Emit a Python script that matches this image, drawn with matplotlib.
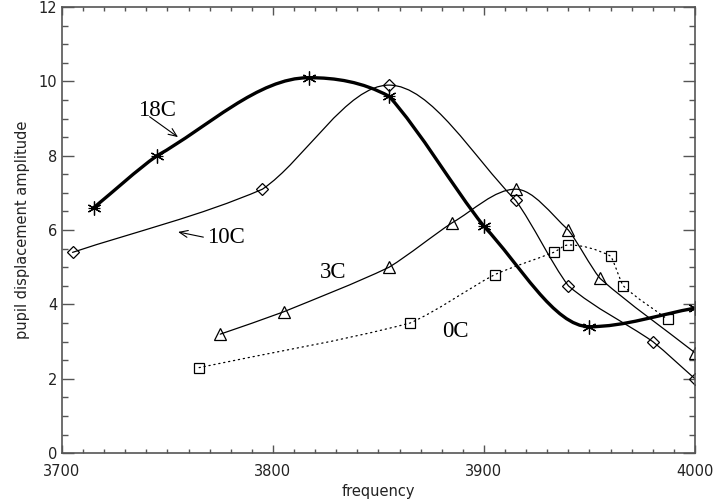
import numpy as np
import matplotlib
matplotlib.use("Agg")
import matplotlib.pyplot as plt
from matplotlib.path import Path
from matplotlib.patches import PathPatch
from matplotlib.ticker import MultipleLocator

# --- data ---
freq_18c = [3715, 3745, 3817, 3855, 3900, 3950, 4000]
amp_18c = [6.6, 8.0, 10.1, 9.6, 6.1, 3.4, 3.9]

freq_10c = [3705, 3795, 3855, 3915, 3940, 3980, 4000]
amp_10c = [5.4, 7.1, 9.9, 6.8, 4.5, 3.0, 2.0]

freq_3c = [3775, 3805, 3855, 3885, 3915, 3940, 3955, 4000]
amp_3c = [3.2, 3.8, 5.0, 6.2, 7.1, 6.0, 4.7, 2.7]

freq_0c = [3765, 3865, 3905, 3933, 3940, 3960, 3966, 3987]
amp_0c = [2.3, 3.5, 4.8, 5.4, 5.6, 5.3, 4.5, 3.6]

x_ticks = [3700, 3800, 3900, 4000]
y_ticks = [0, 2, 4, 6, 8, 10, 12]


def smooth_path(x, y, a=0.5):
    # smooth curve through the points, drawn as cubic bezier segments
    x = np.asarray(x, float)
    y = np.asarray(y, float)
    sec = np.diff(y) / np.diff(x)
    cr = np.empty(len(x))
    cr[1:-1] = (y[2:] - y[:-2]) / (x[2:] - x[:-2])
    cr[0], cr[-1] = sec[0], sec[-1]
    # tangent on each side of a point, leaning towards that side's chord
    m_left = cr.copy()
    m_right = cr.copy()
    m_left[1:] = a * sec + (1 - a) * cr[1:]
    m_right[:-1] = a * sec + (1 - a) * cr[:-1]
    # flat at peaks and dips
    peak = np.zeros(len(x), bool)
    peak[1:-1] = sec[:-1] * sec[1:] <= 0
    m_left[peak] = 0.0
    m_right[peak] = 0.0
    verts = [(x[0], y[0])]
    codes = [Path.MOVETO]
    for i in range(len(x) - 1):
        h = x[i + 1] - x[i]
        verts += [(x[i] + h / 3, y[i] + m_right[i] * h / 3),
                  (x[i + 1] - h / 3, y[i + 1] - m_left[i + 1] * h / 3),
                  (x[i + 1], y[i + 1])]
        codes += [Path.CURVE4] * 3
    return Path(verts, codes)


fig = plt.figure(figsize=(7.15, 5.04), dpi=100)
ax = fig.add_axes([0.0867, 0.101, 0.8853, 0.885])

curves = [
    (freq_18c, amp_18c, 2.4, "-"),
    (freq_10c, amp_10c, 0.9, "-"),
    (freq_3c, amp_3c, 0.9, "-"),
    (freq_0c, amp_0c, 0.9, (0, (1, 3))),
]
for xs, ys, lw, ls in curves:
    ax.add_patch(PathPatch(smooth_path(xs, ys), fill=False, edgecolor="black",
                           lw=lw, linestyle=ls, capstyle="round"))

mk = dict(ls="none", mfc="none", mec="black", mew=0.9)
ax.plot(freq_18c, amp_18c, marker=(6, 2, 0), ms=10, **mk)
ax.plot(freq_18c, amp_18c, marker="_", ms=9, **mk)
ax.plot(freq_10c, amp_10c, marker="D", ms=5.8, **mk)
ax.plot(freq_3c, amp_3c, marker="^", ms=8, **mk)
ax.plot(freq_0c, amp_0c, marker="s", ms=7.5, **mk)

# curve labels
lab = dict(family="Liberation Serif", fontsize=16.5, ha="center", va="center")
ax.text(3745, 9.23, "18C", **lab)
ax.text(3777.5, 5.81, "10C", **lab)
ax.text(3828.5, 4.87, "3C", **lab)
ax.text(3886.5, 3.28, "0C", **lab)
arr = dict(arrowstyle="->,head_length=0.6,head_width=0.25", lw=0.8, color="black",
           shrinkA=0, shrinkB=0)
ax.annotate("", xy=(3755, 8.5), xytext=(3741.5, 9.05), arrowprops=arr)
ax.annotate("", xy=(3755, 5.95), xytext=(3767, 5.81), arrowprops=arr)

ax.set_xlim(3700, 4000)
ax.set_ylim(0, 12)
ax.set_xticks(x_ticks)
ax.set_yticks(y_ticks)
ax.xaxis.set_minor_locator(MultipleLocator(10))
ax.yaxis.set_minor_locator(MultipleLocator(0.5))

axis_col = "#555555"
for s in ax.spines.values():
    s.set_color(axis_col)
    s.set_linewidth(1.2)
ax.tick_params(axis="both", which="both", direction="in", top=True, right=True,
               color=axis_col, width=1.0, labelsize=10.5, labelcolor="#222222")
ax.tick_params(axis="x", which="major", length=5.8, pad=7.5)
ax.tick_params(axis="x", which="minor", length=3.2)
ax.tick_params(axis="y", which="major", length=8.6, pad=3.5)
ax.tick_params(axis="y", which="minor", length=4.3)

ax.set_xlabel("frequency", fontsize=10.5, color="#222222")
ax.set_ylabel("pupil displacement amplitude", fontsize=10.5, color="#222222")
ax.xaxis.set_label_coords(0.5, -0.07)
ax.yaxis.set_label_coords(-0.05, 0.5)

fig.savefig("out.png", dpi=100)
